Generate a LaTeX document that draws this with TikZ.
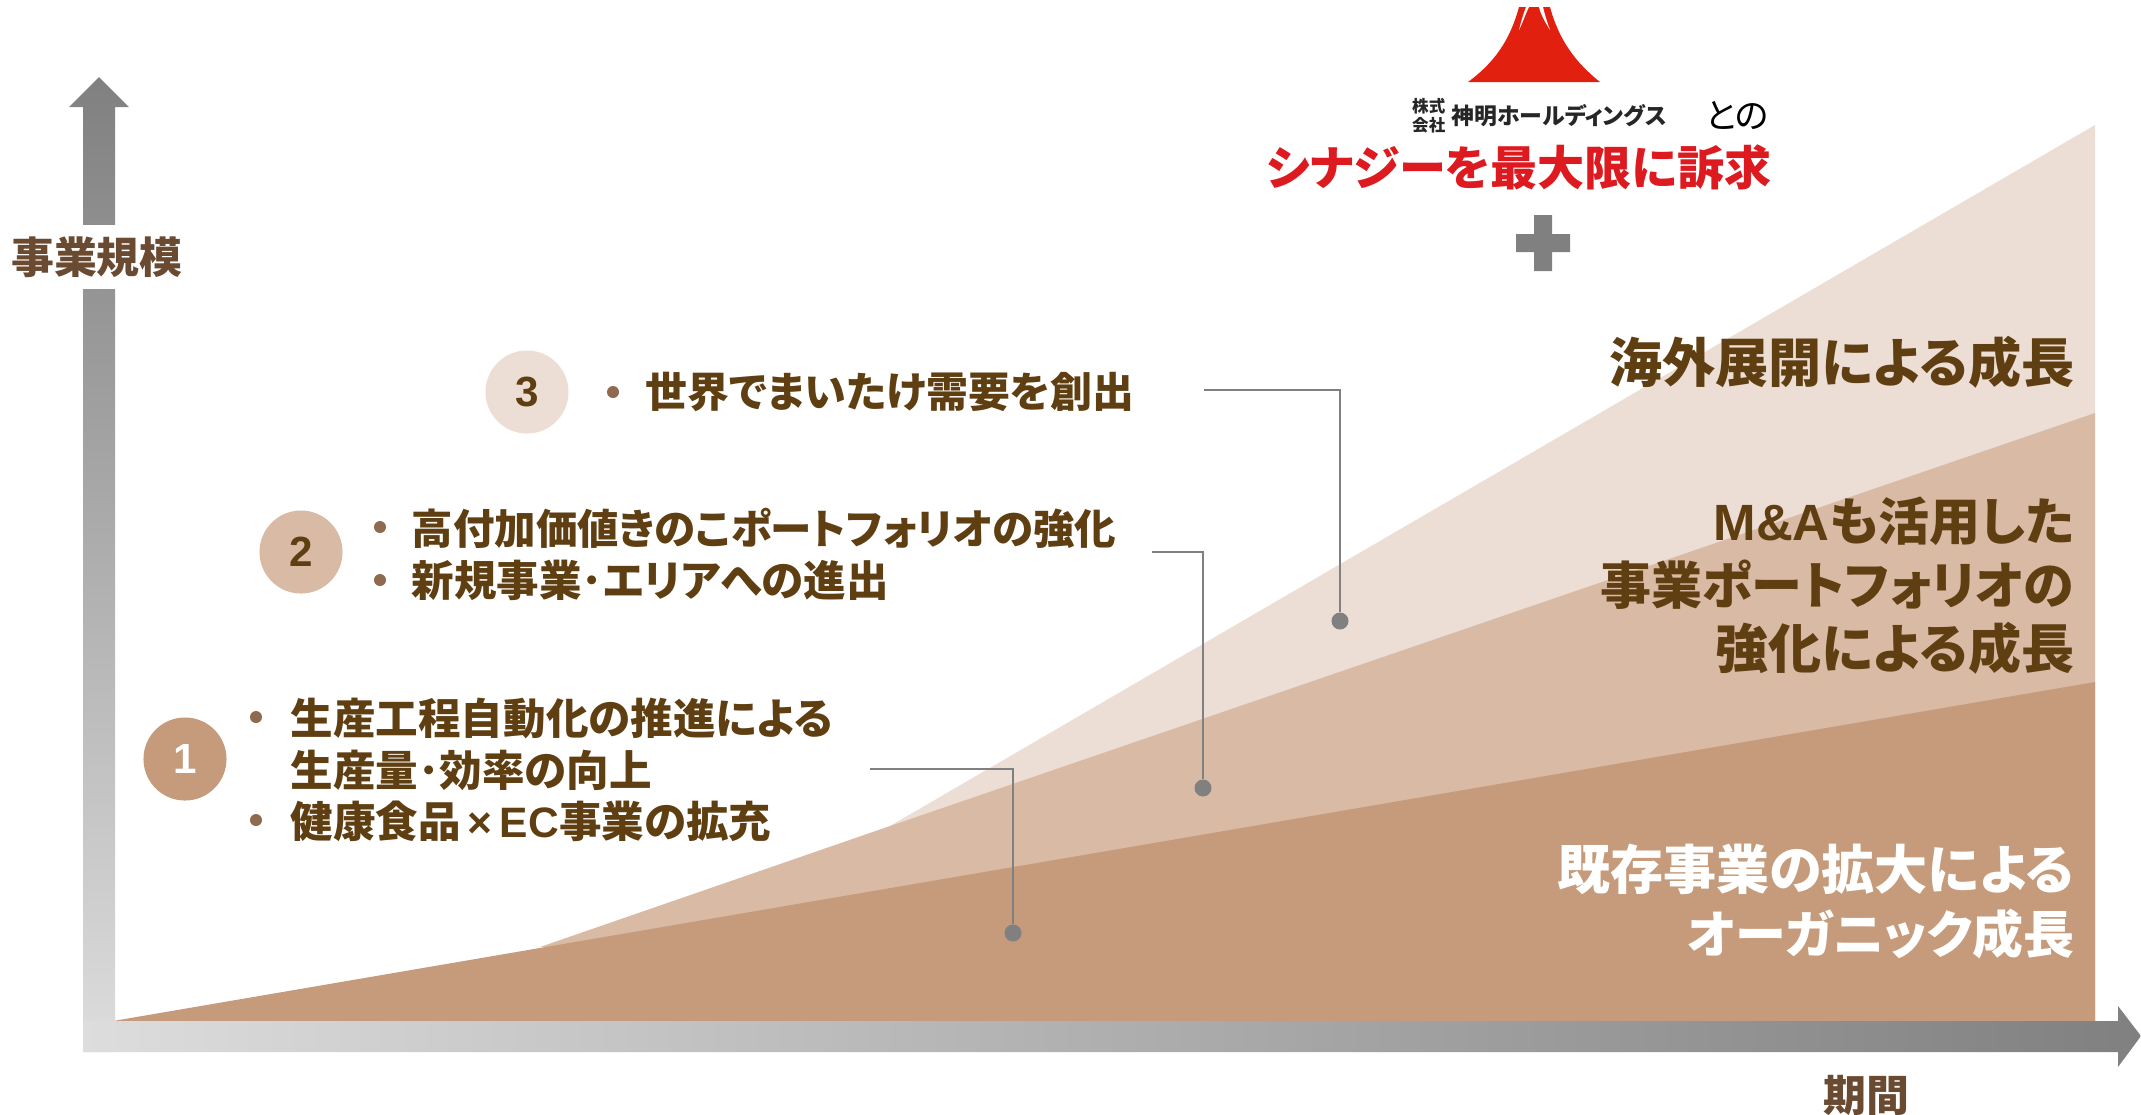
\documentclass[tikz,border=0pt]{standalone}
\usepackage{fontspec}
\setmainfont{Noto Sans CJK JP}[RawFeature=+palt]
\newfontfamily\arialfont{Liberation Sans}
\usepackage{tikz}

\definecolor{areaone}{HTML}{C59B7B}
\definecolor{areatwo}{HTML}{D9BBA5}
\definecolor{areathree}{HTML}{ECDED5}
\definecolor{axisdark}{HTML}{808080}
\definecolor{axislight}{HTML}{DDDDDD}
\definecolor{bodybrown}{HTML}{5F3F12}
\definecolor{axisbrown}{HTML}{6B4A32}
\definecolor{bulletbrown}{HTML}{8F6A4E}
\definecolor{synergyred}{HTML}{DD1A20}
\definecolor{fujired}{HTML}{E2200F}

\newcommand{\wideline}[1]{{\fontsize{15.1}{18.2}\selectfont #1}}

\tikzset{
  itemtext/.style={anchor=west,inner sep=0pt,text=bodybrown,font=\fontsize{12.1}{14}\selectfont\bfseries},
  itemdot/.style={circle,fill=bulletbrown,inner sep=0pt,minimum size=.12cm},
  badge/.style={circle,inner sep=0pt,minimum size=.83cm,font=\arialfont\fontsize{12}{14}\selectfont\bfseries},
  arealabel/.style={anchor=east,align=right,inner sep=0pt,font=\fontsize{14.5}{18.2}\selectfont\bfseries},
  axislabel/.style={text=axisbrown,font=\fontsize{12.2}{14}\selectfont\bfseries},
  leadline/.style={draw=axisdark,line width=.55pt},
  leaddot/.style={circle,fill=axisdark,inner sep=0pt,minimum size=.17cm}
}

\begin{document}
\begin{tikzpicture}[x=.01cm,y=-.01cm]
  \useasboundingbox (0,0) rectangle (2141,1114);

  \fill[areathree] (890,826) -- (2095,125) -- (2095,1021) -- cycle;
  \fill[areatwo] (540,947) -- (890,826) -- (2095,413) -- (2095,1021) -- cycle;
  \fill[areaone] (113,1021) -- (2095,682) -- (2095,1021) -- cycle;

  \shade[top color=axisdark,bottom color=axislight]
    (99,77) -- (129,107) -- (115,107) -- (115,1052) -- (83,1052) -- (83,107) -- (69,107) -- cycle;
  \shade[left color=axislight,right color=axisdark]
    (83,1021) -- (2118,1021) -- (2118,1006) -- (2141,1036) -- (2118,1067) -- (2118,1052) -- (83,1052) -- cycle;

  \node[axislabel,fill=white,inner xsep=0pt,minimum height=.6cm] (yaxis) at (97,257) {事業規模};
  \node[axislabel] (xaxis) at (1866,1095) {期間};

  \node[badge,fill=areaone,text=white] (one) at (185,759) {1};
  \node[badge,fill=areatwo,text=bodybrown] (two) at (301,552) {2};
  \node[badge,fill=areathree,text=bodybrown] (three) at (527,392) {3};

  \foreach \name/\x/\y in {ba/256/717, bb/256/820, bc/380/527, bd/380/580, be/613/392}
    \node[itemdot] (\name) at (\x,\y) {};

  \node[itemtext] (lineone) at (290,718) {生産工程自動化の推進による};
  \node[itemtext] (linetwo) at (290,770) {生産量･効率の向上};
  \node[itemtext] (linethree) at (290,821) {健康食品{\arialfont\,×\,EC}事業の拡充};
  \node[itemtext,font=\fontsize{11.8}{14}\selectfont\bfseries] (linefour) at (411,528) {高付加価値きのこポートフォリオの強化};
  \node[itemtext] (linefive) at (411,580) {新規事業･エリアへの進出};
  \node[itemtext,font=\fontsize{11.9}{14}\selectfont\bfseries] (linesix) at (645,392) {世界でまいたけ需要を創出};

  \node[leaddot] (dotone) at (1013,933) {};
  \node[leaddot] (dottwo) at (1203,788) {};
  \node[leaddot] (dotthree) at (1340,621) {};
  \coordinate (startone) at (870,769);
  \coordinate (starttwo) at (1152,552);
  \coordinate (startthree) at (1204,390);
  \foreach \from/\to in {startone/dotone, starttwo/dottwo, startthree/dotthree}
    \draw[leadline] (\from) -| (\to);

  \node[arealabel,text=bodybrown] (labelthree) at (2075,362) {\wideline{海外展開による成長}};
  \node[arealabel,text=bodybrown] (labeltwo) at (2075,586) {{\arialfont M\&A}も活用した\\事業ポートフォリオの\\\wideline{強化による成長}};
  \node[arealabel,text=white] (labelone) at (2075,902) {\wideline{既存事業の拡大による}\\オーガニック成長};

  \fill[axisdark] (1534,215) -- (1552,215) -- (1552,234) -- (1570,234) -- (1570,252) -- (1552,252)
    -- (1552,271) -- (1534,271) -- (1534,252) -- (1516,252) -- (1516,234) -- (1534,234) -- cycle;

  \node[text=synergyred,font=\fontsize{13.4}{15}\selectfont\bfseries] (synergy) at (1519,167) {シナジーを最大限に訴求};
  \node[font=\fontsize{9.9}{11}\selectfont,text=black] (with) at (1737,115) {との};
  \node[font=\fontsize{6.5}{7}\selectfont\bfseries,anchor=west,inner sep=0pt,text=black!85] (holdings) at (1451,116) {神明ホールディングス};
  \node[font=\fontsize{4.7}{5.4}\selectfont\bfseries,anchor=east,align=center,inner sep=0pt,text=black!85] (kabu) at (1446,116) {株式\\会社};

  \fill[fujired] (1519,7) -- (1550,7) .. controls (1559,40) and (1575,62) .. (1600,82)
    -- (1468,82) .. controls (1495,62) and (1510,40) .. (1519,7) -- cycle;
  \fill[white] (1526,7) -- (1529,7) .. controls (1525,15) and (1523,22) .. (1519,30)
    .. controls (1521,22) and (1523,15) .. (1526,7) -- cycle;
  \fill[white] (1539,7) -- (1543,7) .. controls (1545,15) and (1547,22) .. (1550,30)
    .. controls (1545,22) and (1541,15) .. (1539,7) -- cycle;
\end{tikzpicture}
\end{document}
